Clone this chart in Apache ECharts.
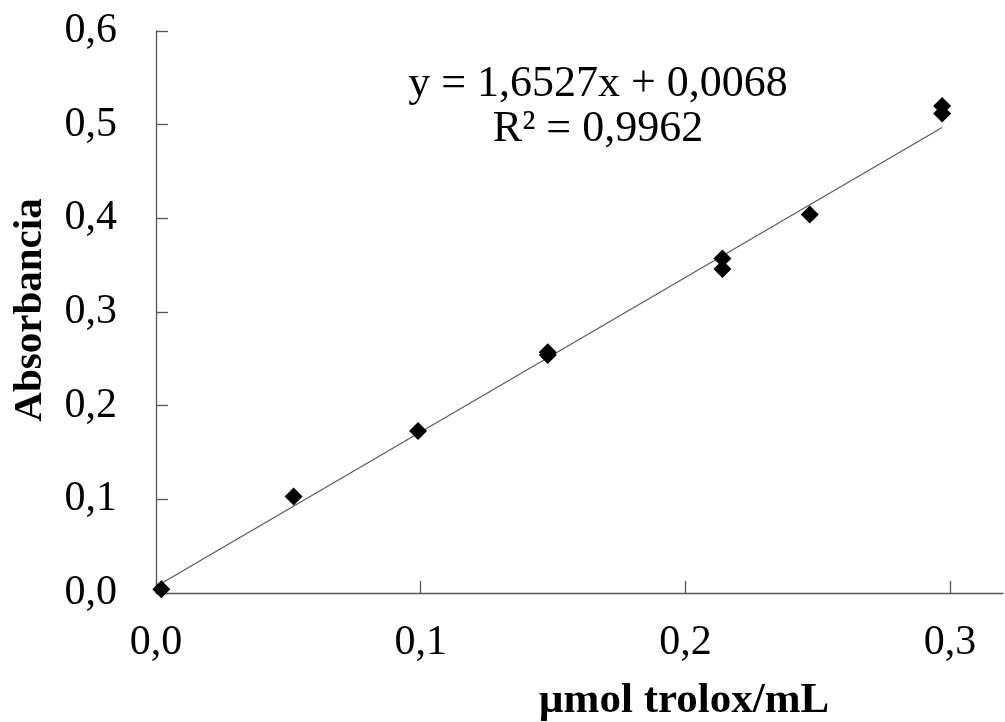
<!DOCTYPE html>
<html>
<head>
<meta charset="utf-8">
<script src="https://cdn.jsdelivr.net/npm/echarts@6/dist/echarts.min.js"></script>
<style>
html,body{margin:0;padding:0;background:#fff;}
#chart{width:1005px;height:722px;}
</style>
</head>
<body>
<div id="chart"></div>
<script>
// Measured data (µmol trolox/mL vs Absorbancia)
const xValues = [0.002, 0.052, 0.099, 0.148, 0.148, 0.214, 0.214, 0.247, 0.297, 0.297];
const yValues = [0.004, 0.103, 0.173, 0.254, 0.257, 0.357, 0.346, 0.404, 0.520, 0.512];
// Trendline endpoints as drawn
const trendX = [0, 0.297];
const trendY = [0.007, 0.497];
const xTicks = [0, 0.1, 0.2, 0.3];
const yTicks = [0, 0.1, 0.2, 0.3, 0.4, 0.5, 0.6];
const equationLines = ['y = 1,6527x + 0,0068', 'R² = 0,9962'];
const xTitle = 'µmol trolox/mL';
const yTitle = 'Absorbancia';

const fmt = v => v.toFixed(1).replace('.', ',');
const FONT = '"Liberation Serif", "Times New Roman", serif';

const chart = echarts.init(document.getElementById('chart'), null, {renderer: 'canvas'});
chart.setOption({
  animation: false,
  backgroundColor: '#fff',
  grid: {left: 156, top: 31, bottom: 129, right: 2, containLabel: false},
  xAxis: {
    type: 'value', min: 0, max: 0.32, interval: 0.1,
    axisLine: {show: true, onZero: false, lineStyle: {color: '#555', width: 1.3}},
    axisTick: {show: true, inside: true, length: 12, lineStyle: {color: '#555', width: 1.3}, customValues: xTicks},
    axisLabel: {fontFamily: FONT, fontSize: 42, color: '#000', margin: 29, formatter: fmt, customValues: xTicks},
    splitLine: {show: false}
  },
  yAxis: {
    type: 'value', min: 0, max: 0.6, interval: 0.1,
    axisLine: {show: true, onZero: false, lineStyle: {color: '#555', width: 1.3}},
    axisTick: {show: true, inside: true, length: 12, lineStyle: {color: '#555', width: 1.3}, customValues: yTicks},
    axisLabel: {fontFamily: FONT, fontSize: 42, color: '#000', margin: 39, formatter: fmt, customValues: yTicks},
    splitLine: {show: false}
  },
  graphic: [
    {type: 'text', x: 598, y: 84, style: {text: equationLines[0], fontFamily: FONT, fontSize: 44, fill: '#000', align: 'center', verticalAlign: 'middle'}},
    {type: 'text', x: 598, y: 129, style: {text: equationLines[1], fontFamily: FONT, fontSize: 44, fill: '#000', align: 'center', verticalAlign: 'middle'}},
    {type: 'text', x: 684, y: 701, style: {text: xTitle, fontFamily: FONT, fontWeight: 'bold', fontSize: 43, fill: '#000', align: 'center', verticalAlign: 'middle'}},
    {type: 'text', x: 30, y: 310, rotation: Math.PI / 2, style: {text: yTitle, fontFamily: FONT, fontWeight: 'bold', fontSize: 41, fill: '#000', align: 'center', verticalAlign: 'middle'}}
  ],
  series: [
    {
      type: 'line', data: trendX.map((x, i) => [x, trendY[i]]),
      symbol: 'none', lineStyle: {color: '#5a5a5a', width: 1.2}, z: 2, silent: true
    },
    {
      type: 'scatter', data: xValues.map((x, i) => [x, yValues[i]]),
      symbol: 'diamond', symbolSize: 18, itemStyle: {color: '#000', opacity: 1}, z: 3
    }
  ]
});
</script>
</body>
</html>
